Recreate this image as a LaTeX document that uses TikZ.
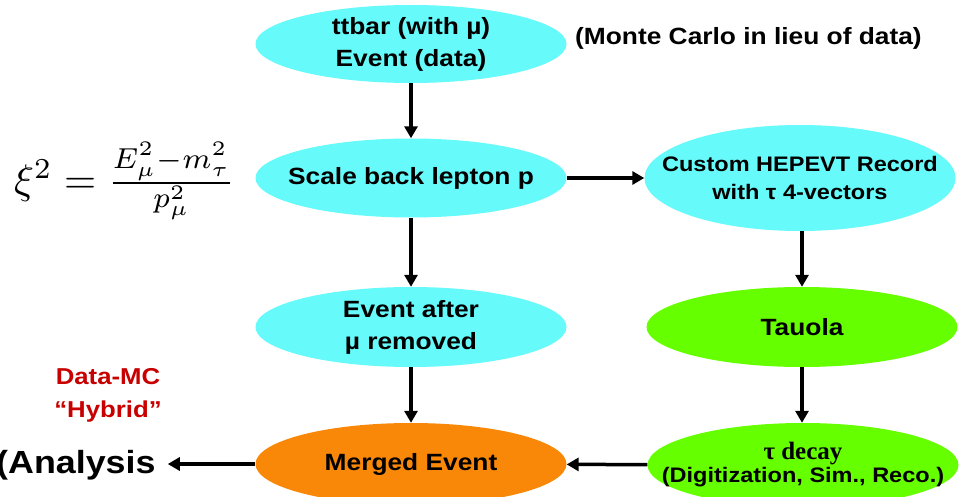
\documentclass[tikz,border=0pt]{standalone}
\usepackage{fontspec}
\usetikzlibrary{shapes.geometric,arrows.meta}
\newfontfamily\hv[FakeStretch=1.12]{Liberation Sans}
\newfontfamily\tms{Liberation Serif}
\definecolor{cy}{RGB}{102,250,250}
\definecolor{gr}{RGB}{102,255,0}
\definecolor{org}{RGB}{250,136,8}
\definecolor{dred}{RGB}{200,0,0}
\tikzset{
  ell/.style={ellipse, inner sep=0pt, minimum width=311pt},
  txt/.style={align=center, inner sep=0pt,
    font=\hv\bfseries\fontsize{23.5}{32}\selectfont},
  arr/.style={line width=3.5pt, -{Triangle[length=12pt,width=13pt]}}
}
\begin{document}
\begin{tikzpicture}[x=1pt,y=-1pt]
\useasboundingbox (0,0) rectangle (961,497);
\node[ell, fill=cy, minimum height=78pt] (top) at (411,44) {};
\node[txt] (top-t) at (top) {ttbar (with µ)\\Event (data)};
\node[ell, fill=cy, minimum height=79pt] (scale) at (411,178) {};
\node[txt] (scale-t) at (scale) {Scale back lepton p};
\node[ell, fill=cy, minimum height=80pt] (after) at (411,327) {};
\node[txt] (after-t) at (after) {Event after\\µ removed};
\node[ell, fill=org, minimum height=82pt] (merged) at (411,464) {};
\node[txt] (merged-t) at (merged) {Merged Event};
\node[ell, fill=cy, minimum height=106pt] (custom) at (800,178) {};
\node[txt, font=\hv\bfseries\fontsize{21}{28}\selectfont] (custom-t) at (custom) {Custom HEPEVT Record\\with τ 4-vectors};
\node[ell, fill=gr, minimum height=80pt] (tauola) at (802,327) {};
\node[txt] (tauola-t) at (tauola) {Tauola};
\node[ell, fill=gr, minimum height=84pt] (decay) at (803,465) {};
\node[txt, font=\hv\bfseries\fontsize{21}{23}\selectfont] (decay-t) at (decay) {{\tms\bfseries\fontsize{25}{23}\selectfont τ decay}\\(Digitization, Sim., Reco.)};
\node[anchor=base west, inner sep=0pt, font=\hv\bfseries\fontsize{23.5}{32}\selectfont] (mc) at (575,45) {(Monte Carlo in lieu of data)};
\node[anchor=base west, inner sep=0pt, font=\hv\bfseries\fontsize{32}{40}\selectfont] (analysis) at (-4,473) {(Analysis};
\node[align=center, inner sep=0pt, text=dred, font=\hv\bfseries\fontsize{23}{33}\selectfont] (hybrid) at (108,395) {Data-MC\\“Hybrid”};
\node[anchor=west, inner sep=0pt] (xi) at (14,181) {\resizebox{221pt}{!}{$\xi^2 = \frac{E_\mu^2 - m_\tau^2}{p_\mu^2}$}};
\draw[arr] (top) -- (scale);
\draw[arr] (scale) -- (after);
\draw[arr] (after) -- (merged);
\draw[arr] (scale) -- (custom);
\draw[arr] (custom.south -| tauola) -- (tauola);
\draw[arr] (tauola) -- (decay.north -| tauola);
\draw[arr] (decay) -- (merged);
\draw[arr, shorten >=12pt] (merged.west) -- (merged.west -| analysis.east);
\end{tikzpicture}
\end{document}
